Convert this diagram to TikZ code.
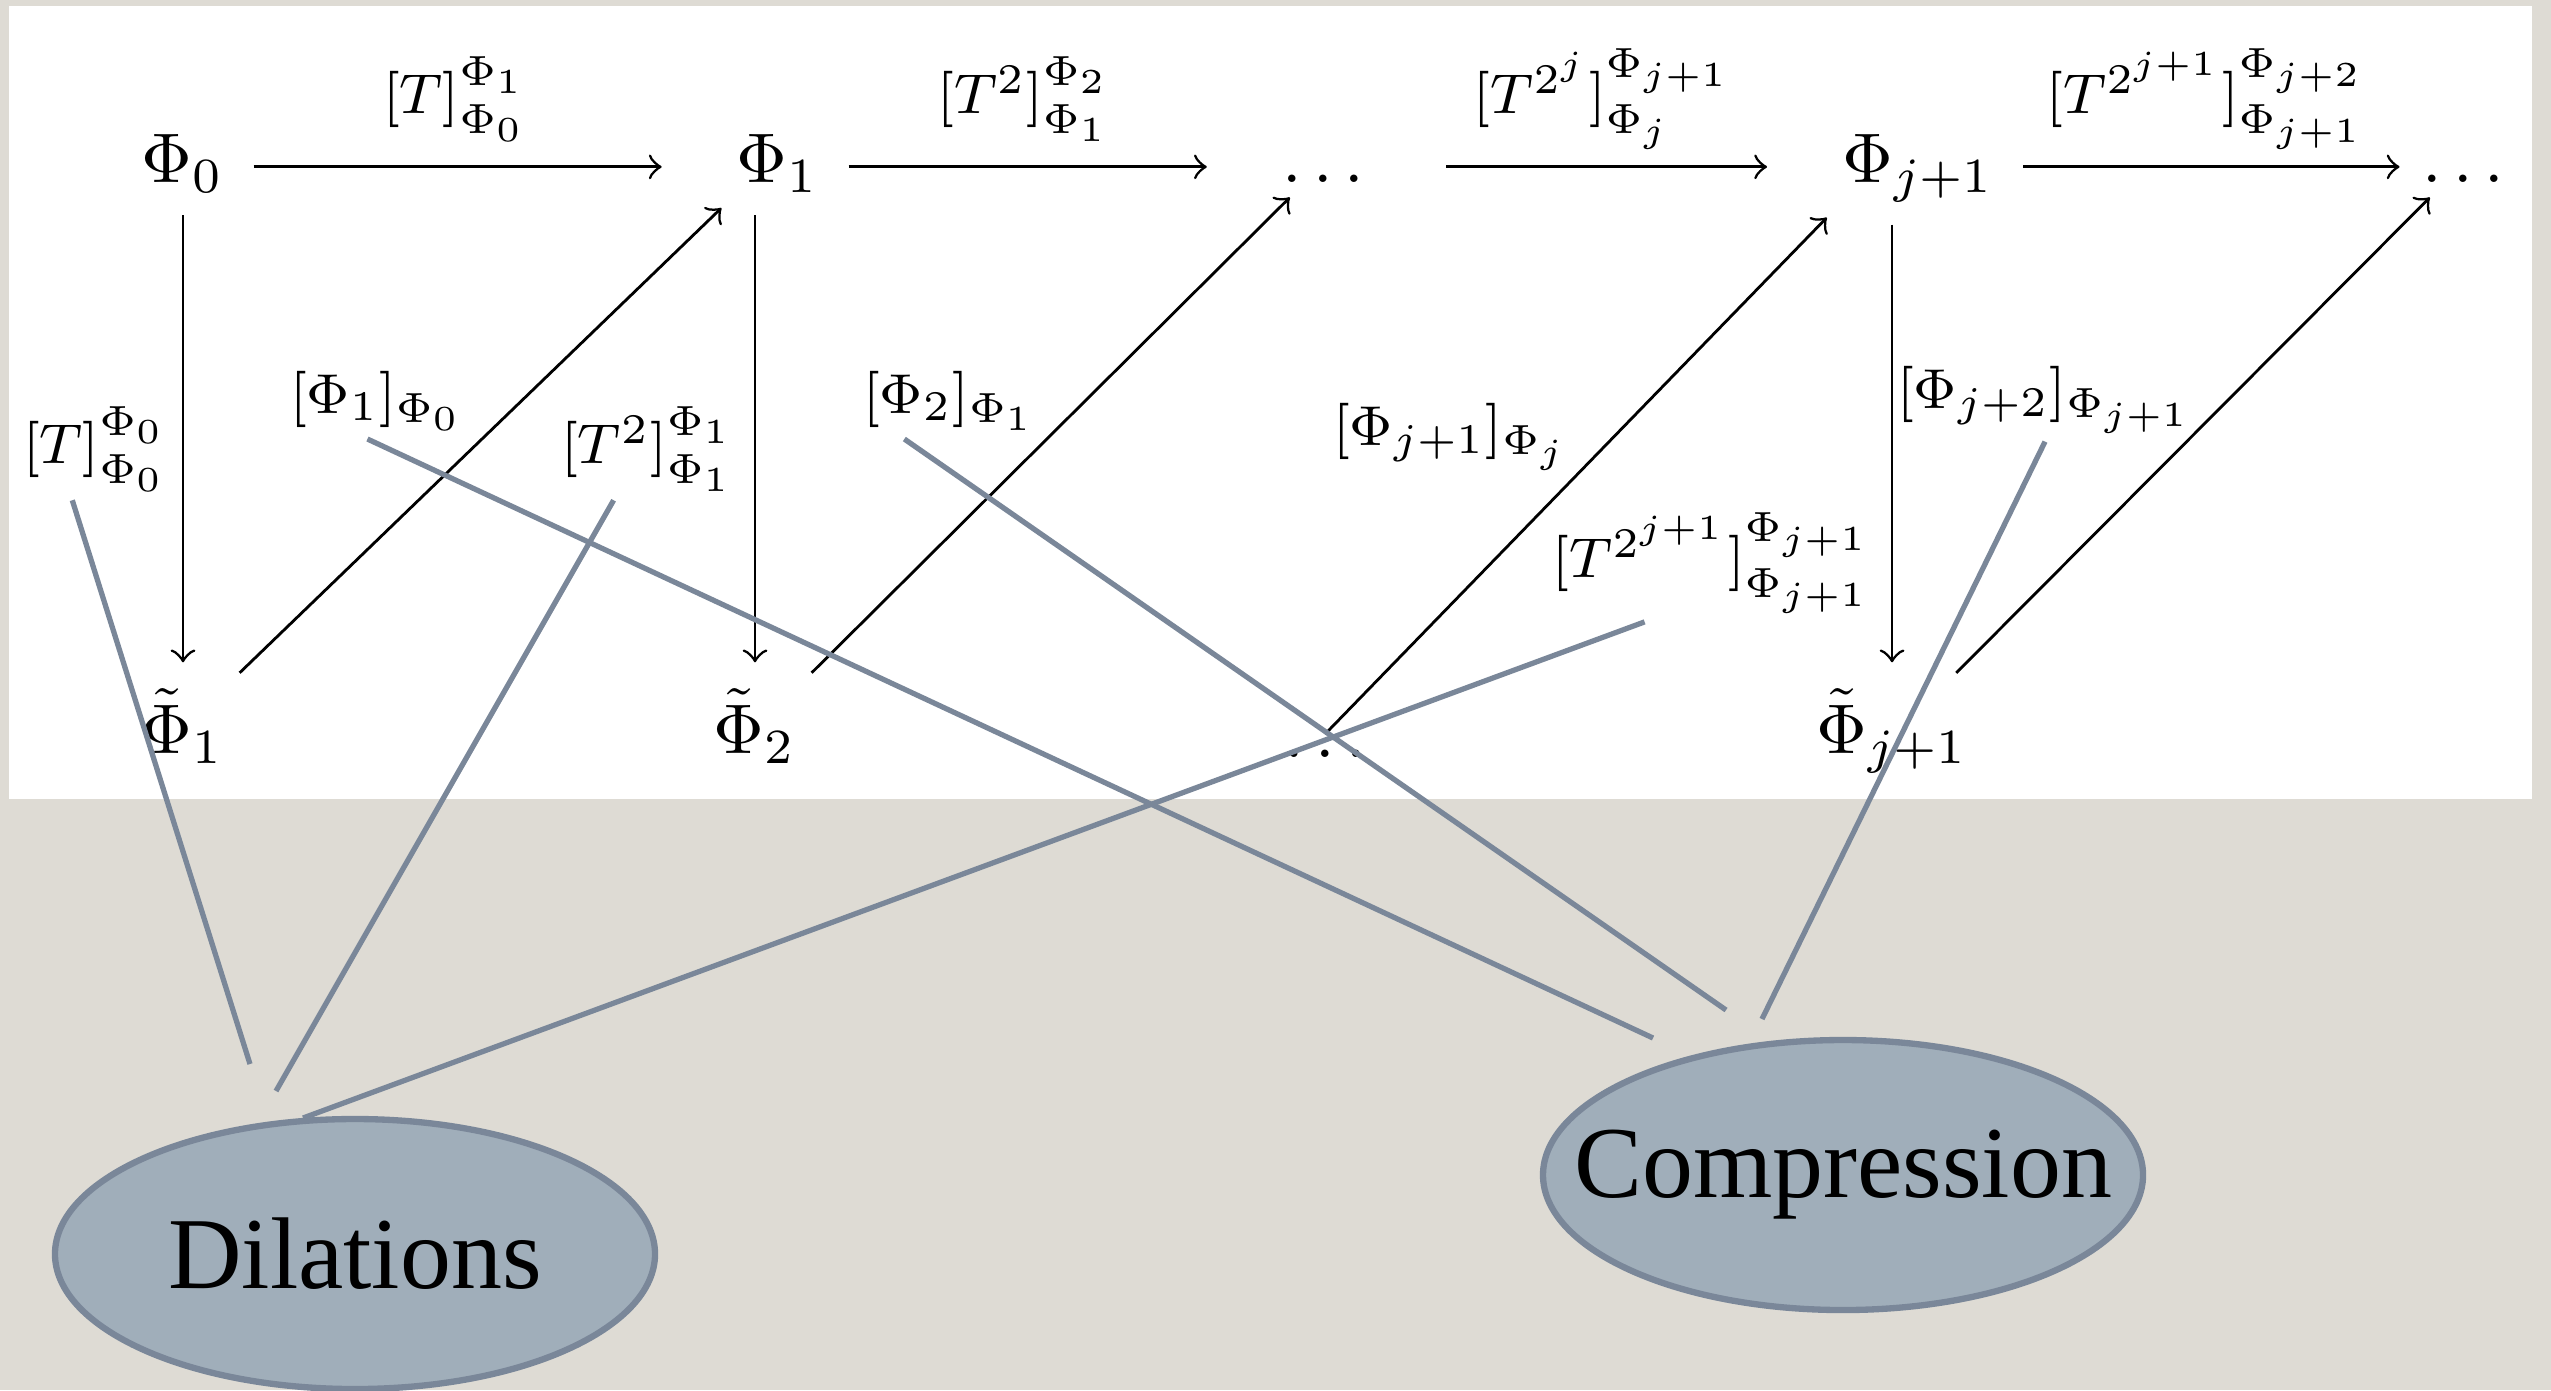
\documentclass[tikz,border=0pt]{standalone}
\usepackage[no-math]{fontspec}
\newfontfamily\bubblefont{Liberation Serif}
\usetikzlibrary{shapes.geometric}
\definecolor{paper}{HTML}{DEDBD4}
\definecolor{slate}{HTML}{7A8799}
\definecolor{bubblefill}{HTML}{A0AEBA}

\begin{document}
\begin{tikzpicture}[
  x=0.05mm, y=-0.05mm,
  onode/.style={anchor=base, inner sep=2pt},
  lnode/.style={anchor=base, inner sep=1pt, font=\footnotesize},
  bnode/.style={ellipse, draw=slate, fill=bubblefill, line width=0.9pt, inner sep=0pt,
    minimum width=30mm, minimum height=13.5mm, font=\bubblefont\fontsize{14.5}{17}\selectfont},
  edge/.style={->, draw=black, shorten <=2pt, shorten >=8.5pt},
  vedge/.style={->, draw=black, shorten <=1pt, shorten >=1.5pt},
  dedge/.style={->, draw=black},
  link/.style={draw=slate, line width=0.75pt}
]
  \useasboundingbox (0,0) rectangle (2551,1390);

  % Fondo y recuadro blanco
  \fill[paper] (0,0) rectangle (2551,1390);
  \fill[white] (9,6) rectangle (2532,799);

  % Fila superior
  \node[onode] (p0) at (183,182) {$\Phi_0$};
  \node[onode] (p1) at (778,182) {$\Phi_1$};
  \node[onode] (d1) at (1323,182) {$\ldots$};
  \node[onode] (p2) at (1918,182) {$\Phi_{j+1}$};
  \node[onode] (d2) at (2463,182) {$\ldots$};

  % Fila inferior
  \node[onode] (q1) at (183,753) {$\tilde{\Phi}_1$};
  \node[onode] (q2) at (755,753) {$\tilde{\Phi}_2$};
  \node[onode] (d3) at (1325,757) {$\ldots$};
  \node[onode] (q3) at (1892,753) {$\tilde{\Phi}_{j+1}$};

  % Flechas horizontales
  \draw[edge] (p0.mid east) -- (p1.mid west);
  \draw[edge] (p1.mid east) -- (d1.mid west);
  \draw[edge, shorten <=9.5pt] (d1.mid east) -- (p2.mid west);
  \draw[edge, shorten >=1pt] (p2.mid east) -- (d2.mid west);

  % Flechas verticales
  \draw[vedge] (p0.south) -- (q1.north);
  \draw[vedge] (q2 |- p1.south) -- (q2.north);
  \draw[vedge] (q3 |- p2.south) -- (q3.north);

  % Flechas diagonales
  \draw[dedge] (q1.north east) -- (p1.south west);
  \draw[dedge] (q2.north east) -- (d1.-150);
  \draw[dedge] (d3.north) -- (p2.south west);
  \draw[dedge] (q3.42) -- (d2.-150);

  % Etiquetas de las flechas horizontales
  \node[lnode] (a01) at (455,113) {$[T]^{\Phi_1}_{\Phi_0}$};
  \node[lnode] (a12) at (1024,113) {$[T^2]^{\Phi_2}_{\Phi_1}$};
  \node[lnode] (a23) at (1603,113) {$[T^{2^j}]^{\Phi_{j+1}}_{\Phi_j}$};
  \node[lnode] (a34) at (2206,113) {$[T^{2^{j+1}}]^{\Phi_{j+2}}_{\Phi_{j+1}}$};

  % Etiquetas de las flechas verticales
  \node[lnode] (b0) at (95,463) {$[T]^{\Phi_0}_{\Phi_0}$};
  \node[lnode] (b1) at (648,463) {$[T^2]^{\Phi_1}_{\Phi_1}$};
  \node[lnode] (b3) at (1712,577) {$[T^{2^{j+1}}]^{\Phi_{j+1}}_{\Phi_{j+1}}$};

  % Etiquetas de las flechas diagonales
  \node[lnode] (c0) at (377,413) {$[\Phi_1]_{\Phi_0}$};
  \node[lnode] (c1) at (950,413) {$[\Phi_2]_{\Phi_1}$};
  \node[lnode] (c2) at (1451,445) {$[\Phi_{j+1}]_{\Phi_j}$};
  \node[lnode] (c3) at (2045,408) {$[\Phi_{j+2}]_{\Phi_{j+1}}$};

  % Burbujas
  \node[bnode] (dil) at (355,1254) {\makebox[0pt]{Dilations}};
  \node[bnode] (cmp) at (1843,1175) {\makebox[0pt]{Compression}};

  % Extremos libres de las lineas grises
  \coordinate (dil1) at (250,1064);
  \coordinate (dil2) at (276,1091);
  \coordinate (dil3) at (303,1118);
  \coordinate (cmp1) at (1653,1038);
  \coordinate (cmp2) at (1726,1010);
  \coordinate (cmp3) at (1762,1019);

  % Lineas grises hacia Dilations
  \draw[link] (b0.-114) -- (dil1);
  \draw[link] (b1.-124) -- (dil2);
  \draw[link] (b3.-139) -- (dil3);

  % Lineas grises hacia Compression
  \draw[link] (c0.-104) -- (cmp1);
  \draw[link] (c1.-140) -- (cmp2);
  \draw[link] (c3.south) -- (cmp3);
\end{tikzpicture}
\end{document}
